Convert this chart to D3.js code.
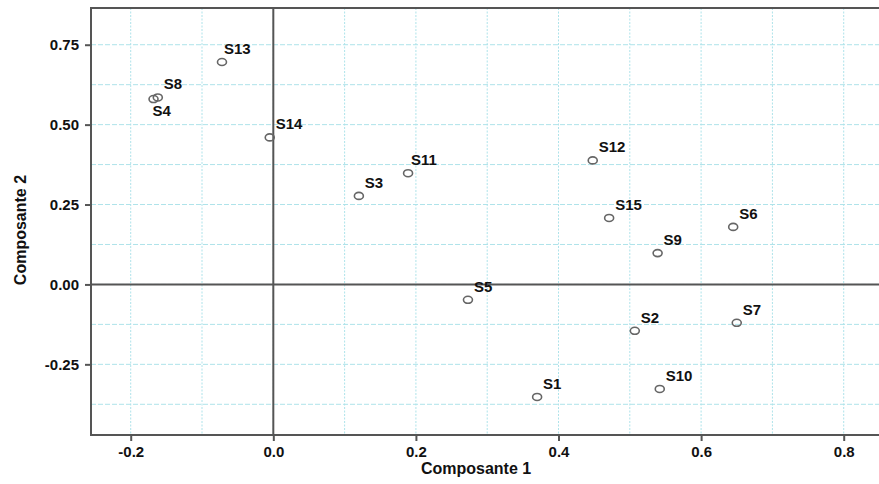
<!DOCTYPE html>
<html><head><meta charset="utf-8">
<script src="https://cdn.jsdelivr.net/npm/d3@7"></script>
<style>body{margin:0;background:#fff}svg{display:block}text{font-family:"Liberation Sans",Arial,sans-serif;font-weight:bold;fill:#111}</style>
</head><body>
<svg id="c" width="879" height="484"></svg>
<script>
const labels = ["S1","S2","S3","S4","S5","S6","S7","S8","S9","S10","S11","S12","S13","S14","S15"];
const comp1 = [0.370,0.507,0.120,-0.168,0.273,0.645,0.650,-0.162,0.539,0.542,0.189,0.448,-0.072,-0.005,0.471];
const comp2 = [-0.352,-0.145,0.277,0.580,-0.048,0.180,-0.120,0.585,0.098,-0.327,0.348,0.388,0.696,0.460,0.208];
const xTicks = [-0.2,0.0,0.2,0.4,0.6,0.8];
const yTicks = [-0.25,0.00,0.25,0.50,0.75];
const xGrid = [-0.2,-0.1,0,0.1,0.2,0.3,0.4,0.5,0.6,0.7,0.8];
const yGrid = [-0.375,-0.25,-0.125,0,0.125,0.25,0.375,0.5,0.625,0.75];

const svg = d3.select("#c");
const L=91,T=8,R=879,B=435;
const x = d3.scaleLinear().domain([-0.2557,0.8495]).range([L,R]);
const y = d3.scaleLinear().domain([-0.4711,0.8649]).range([B,T]);
const hy = f => d => f(d).replace("\u2212","-");

const g = svg.append("g");
g.selectAll(".vg").data(xGrid).join("line")
  .attr("x1",d=>x(d)).attr("x2",d=>x(d)).attr("y1",T).attr("y2",B)
  .attr("stroke","#aee3ea").attr("stroke-width",1).attr("stroke-dasharray","2,1.5");
g.selectAll(".hg").data(yGrid).join("line")
  .attr("x1",L).attr("x2",R).attr("y1",d=>y(d)).attr("y2",d=>y(d))
  .attr("stroke","#aee3ea").attr("stroke-width",1).attr("stroke-dasharray","5,2");

g.append("line").attr("x1",x(0)).attr("x2",x(0)).attr("y1",T).attr("y2",B).attr("stroke","#555").attr("stroke-width",2);
g.append("line").attr("x1",L).attr("x2",R).attr("y1",y(0)).attr("y2",y(0)).attr("stroke","#555").attr("stroke-width",2);

const xa = svg.append("g").attr("transform",`translate(0,${B})`)
  .call(d3.axisBottom(x).tickValues(xTicks).tickFormat(hy(d3.format(".1f"))).tickSize(6).tickPadding(5));
const ya = svg.append("g").attr("transform",`translate(${L},0)`)
  .call(d3.axisLeft(y).tickValues(yTicks).tickFormat(hy(d3.format(".2f"))).tickSize(6).tickPadding(6));
[xa,ya].forEach(a=>{
  a.select(".domain").remove();
  a.selectAll(".tick line").attr("stroke","#555").attr("stroke-width",2);
  a.selectAll(".tick text").attr("font-size",15).attr("font-weight","bold").attr("fill","#111");
});
svg.append("path").attr("d",`M${R},${T}H${L}V${B}H${R}`).attr("fill","none").attr("stroke","#555").attr("stroke-width",2);

const pts = labels.map((s,i)=>({s,x:comp1[i],y:comp2[i]}));
svg.selectAll(".pt").data(pts).join("ellipse")
  .attr("cx",d=>x(d.x)).attr("cy",d=>y(d.y)).attr("rx",4.5).attr("ry",3.5)
  .attr("fill","none").attr("stroke","#666").attr("stroke-width",1.6);
svg.selectAll(".lb").data(pts).join("text")
  .attr("x",d=>x(d.x)+(d.s==="S4"?-1:d.s==="S13"?2:d.s==="S11"?3:6))
  .attr("y",d=>y(d.y)+(d.s==="S4"?17:-8))
  .attr("font-size",15).text(d=>d.s);

svg.append("text").attr("x",476).attr("y",474).attr("text-anchor","middle").attr("font-size",16).text("Composante 1");
svg.append("text").attr("transform","translate(26,230) rotate(-90)").attr("text-anchor","middle").attr("font-size",16).text("Composante 2");
</script>
</body></html>
